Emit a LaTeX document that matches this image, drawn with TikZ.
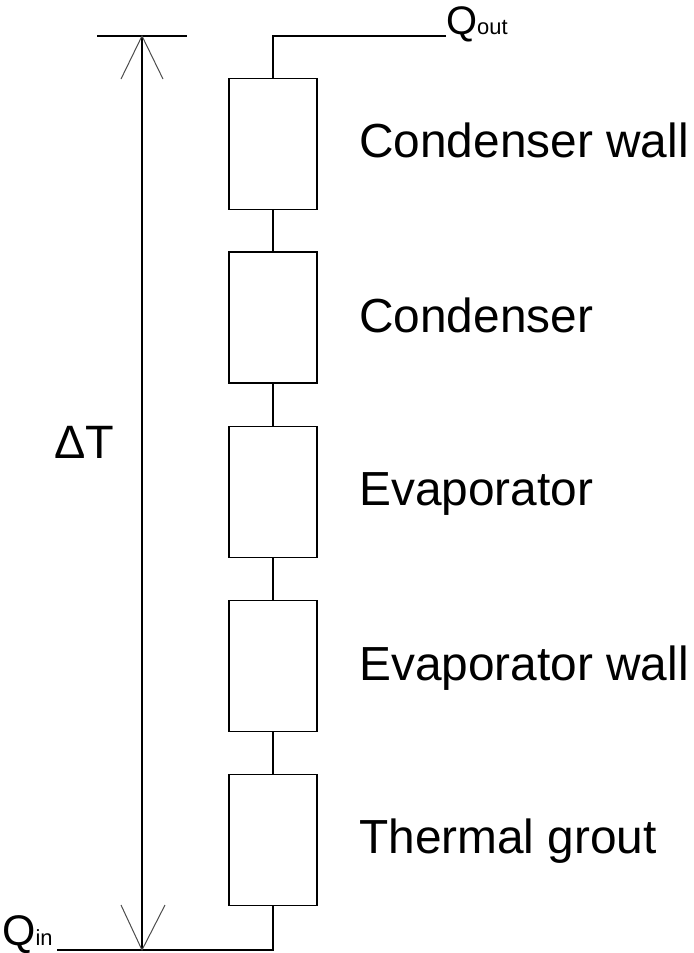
\documentclass[tikz,border=0pt]{standalone}
\usepackage{fontspec}
\setmainfont{Liberation Sans}
\begin{document}
\begin{tikzpicture}[x=1bp,y=-1bp,
  resbox/.style={draw,line width=1.2bp,minimum width=88bp,minimum height=131bp,inner sep=0pt},
  lbl/.style={anchor=base west,inner sep=0pt,font=\fontsize{48}{48}\selectfont},
  wire/.style={line width=1.2bp},
  tick/.style={line width=1bp,black!70}]
\useasboundingbox (0,0) rectangle (694,953);

% thermal resistances in series
\node[resbox] (b1) at (273,144) {};
\node[resbox] (b2) at (273,317.5) {};
\node[resbox] (b3) at (273,492) {};
\node[resbox] (b4) at (273,666) {};
\node[resbox] (b5) at (273,840) {};

\node[lbl] (l1) at (359,157) {Condenser wall};
\node[lbl] (l2) at (359,332) {Condenser};
\node[lbl] (l3) at (359,505) {Evaporator};
\node[lbl] (l4) at (359,680) {Evaporator wall};
\node[lbl] (l5) at (359,853) {Thermal grout};

\draw[wire] (b1.south) -- (b2.north);
\draw[wire] (b2.south) -- (b3.north);
\draw[wire] (b3.south) -- (b4.north);
\draw[wire] (b4.south) -- (b5.north);

% heat flow terminals
\coordinate (tc) at (273,36);
\coordinate (qo) at (446,36);
\coordinate (bc) at (273,950);
\coordinate (qi) at (57,950);
\node[anchor=base west,inner sep=0pt] (qout) at (446,34)
  {\fontsize{40}{40}\selectfont Q\fontsize{22}{22}\selectfont out};
\node[anchor=base west,inner sep=0pt] (qin) at (2,945)
  {\fontsize{43}{43}\selectfont Q\fontsize{22}{22}\selectfont in};
\draw[wire] (qo) -- (tc) -- (b1.north);
\draw[wire] (b5.south) -- (bc) -- (qi);

% temperature difference dimension
\coordinate (dt) at (142,36);
\coordinate (db) at (142,950);
\coordinate (barl) at (97,36);
\coordinate (barr) at (187,36);
\draw[wire] (barl) -- (barr);
\draw[wire] (dt) -- (db);
\coordinate (a1) at (121,79);
\coordinate (a2) at (163,79);
\coordinate (a3) at (121,905);
\coordinate (a4) at (165,905);
\draw[tick] (a1) -- (dt) -- (a2);
\draw[tick] (a3) -- (db) -- (a4);
\node[anchor=base west,inner sep=0pt,font=\fontsize{47}{47}\selectfont] (dT) at (54,458) {ΔT};
\end{tikzpicture}
\end{document}
